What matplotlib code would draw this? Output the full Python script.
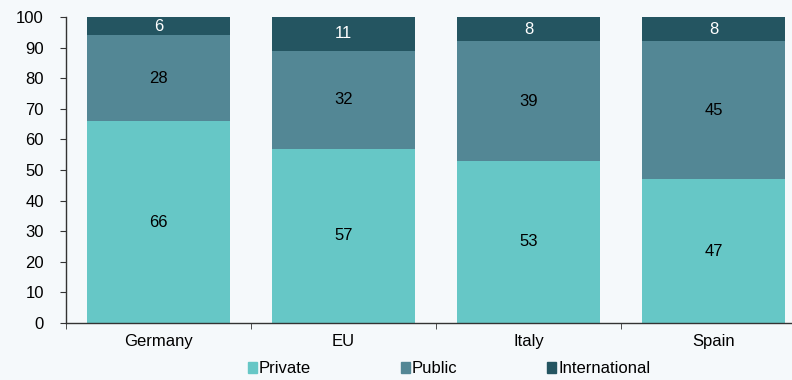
import numpy as np
import matplotlib.pyplot as plt
from matplotlib.patches import Patch

plt.rcParams['font.family'] = ['Liberation Sans', 'DejaVu Sans']

countries = ['Germany', 'EU', 'Italy', 'Spain']
private = [66, 57, 53, 47]
public = [28, 32, 39, 45]
international = [6, 11, 8, 8]

bg = '#f5f9fb'
c_priv = '#66c7c6'
c_pub = '#538795'
c_int = '#245561'

fig = plt.figure(figsize=(7.92, 3.8), dpi=100, facecolor=bg)
ax = fig.add_axes([66/792, 57/380, 740/792, 306/380], facecolor=bg)

x = np.arange(len(countries))
w = 0.77
pub_base = np.array(private)
int_base = pub_base + np.array(public)

ax.bar(x, private, w, color=c_priv)
ax.bar(x, public, w, bottom=pub_base, color=c_pub)
ax.bar(x, international, w, bottom=int_base, color=c_int)

for i in range(len(countries)):
    ax.text(x[i], private[i] / 2, str(private[i]), ha='center', va='center', fontsize=12, color='black')
    ax.text(x[i], pub_base[i] + public[i] / 2, str(public[i]), ha='center', va='center', fontsize=12, color='black')
    ax.text(x[i], int_base[i] + international[i] / 2, str(international[i]), ha='center', va='center', fontsize=12, color='white')

ax.set_xlim(-0.5, len(countries) - 0.5)
ax.set_ylim(0, 100)
ax.set_yticks(range(0, 101, 10))
ax.set_xticks(x)
ax.set_xticklabels(countries)
ax.set_xticks(np.arange(-0.5, len(countries), 1), minor=True)
ax.tick_params(axis='x', which='major', length=0, labelsize=12, pad=8)
ax.tick_params(axis='x', which='minor', length=4, direction='out', color='#333333')
ax.tick_params(axis='y', length=4, labelsize=12, color='#333333', pad=12)
for s in ['top', 'right']:
    ax.spines[s].set_visible(False)
for s in ['left', 'bottom']:
    ax.spines[s].set_color('#333333')
    ax.spines[s].set_linewidth(1.0)

handles = [Patch(color=c_priv, label='Private'),
           Patch(color=c_pub, label='Public'),
           Patch(color=c_int, label='International')]
fig.legend(handles=handles, loc='lower center', bbox_to_anchor=(0.567, -0.03), ncol=3,
           frameon=False, fontsize=12, handlelength=0.55, handleheight=0.55,
           handletextpad=0.1, columnspacing=5.4)

fig.savefig('out.png', dpi=100, facecolor=bg)
